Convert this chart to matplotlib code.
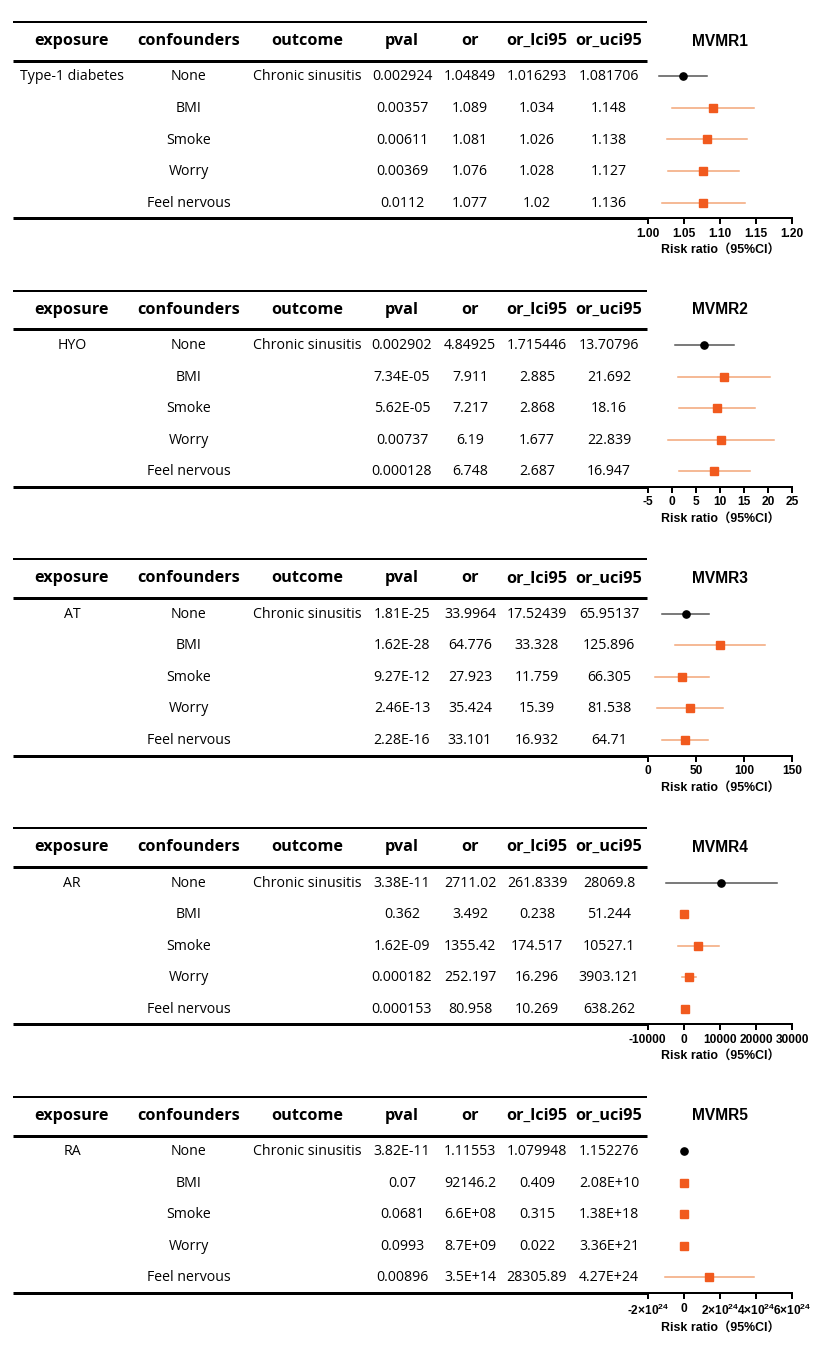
import matplotlib
matplotlib.use("Agg")
import matplotlib.pyplot as plt

W, H, DPI = 833, 1350, 100

# ---------------- data ----------------
headers = ["exposure", "confounders", "outcome", "pval", "or", "or_lci95", "or_uci95"]
exposures = ["Type-1 diabetes", "HYO", "AT", "AR", "RA"]
confounders = ["None", "BMI", "Smoke", "Worry", "Feel nervous"]
outcome = "Chronic sinusitis"
titles = ["MVMR1", "MVMR2", "MVMR3", "MVMR4", "MVMR5"]

pval = [
    ["0.002924", "0.00357", "0.00611", "0.00369", "0.0112"],
    ["0.002902", "7.34E-05", "5.62E-05", "0.00737", "0.000128"],
    ["1.81E-25", "1.62E-28", "9.27E-12", "2.46E-13", "2.28E-16"],
    ["3.38E-11", "0.362", "1.62E-09", "0.000182", "0.000153"],
    ["3.82E-11", "0.07", "0.0681", "0.0993", "0.00896"],
]
or_val = [
    ["1.04849", "1.089", "1.081", "1.076", "1.077"],
    ["4.84925", "7.911", "7.217", "6.19", "6.748"],
    ["33.9964", "64.776", "27.923", "35.424", "33.101"],
    ["2711.02", "3.492", "1355.42", "252.197", "80.958"],
    ["1.11553", "92146.2", "6.6E+08", "8.7E+09", "3.5E+14"],
]
or_lci = [
    ["1.016293", "1.034", "1.026", "1.028", "1.02"],
    ["1.715446", "2.885", "2.868", "1.677", "2.687"],
    ["17.52439", "33.328", "11.759", "15.39", "16.932"],
    ["261.8339", "0.238", "174.517", "16.296", "10.269"],
    ["1.079948", "0.409", "0.315", "0.022", "28305.89"],
]
or_uci = [
    ["1.081706", "1.148", "1.138", "1.127", "1.136"],
    ["13.70796", "21.692", "18.16", "22.839", "16.947"],
    ["65.95137", "125.896", "66.305", "81.538", "64.71"],
    ["28069.8", "51.244", "10527.1", "3903.121", "638.262"],
    ["1.152276", "2.08E+10", "1.38E+18", "3.36E+21", "4.27E+24"],
]

# forest-plot values as drawn
fp_est = [
    [1.0488, 1.0908, 1.082, 1.0767, 1.077],
    [6.74, 10.76, 9.38, 10.2, 8.76],
    [39.4, 74.7, 35.3, 43.9, 38.4],
    [10370, 0, 3980, 1300, 190],
    [0, 0, 0, 0, 1.41e24],
]
fp_lo = [
    [1.016, 1.034, 1.0263, 1.0286, 1.0203],
    [0.66, 1.22, 1.56, -0.85, 1.5],
    [15.2, 28.3, 7.6, 10.0, 14.5],
    [-5000, 0, -1670, -650, 190],
    [0, 0, 0, 0, -1.02e24],
]
fp_hi = [
    [1.0816, 1.147, 1.137, 1.126, 1.1347],
    [12.9, 20.4, 17.26, 21.3, 16.2],
    [63.2, 121.7, 63.2, 78.1, 62.5],
    [25830, 0, 9720, 3400, 190],
    [0, 0, 0, 0, 3.88e24],
]
x_limits = [(1.0, 1.2), (-5, 25), (0, 150), (-10000, 30000), (-2e24, 6e24)]
x_ticks = [
    [1.00, 1.05, 1.10, 1.15, 1.20],
    [-5, 0, 5, 10, 15, 20, 25],
    [0, 50, 100, 150],
    [-10000, 0, 10000, 20000, 30000],
    [-2e24, 0, 2e24, 4e24, 6e24],
]
x_ticklabels = [
    ["1.00", "1.05", "1.10", "1.15", "1.20"],
    ["-5", "0", "5", "10", "15", "20", "25"],
    ["0", "50", "100", "150"],
    ["-10000", "0", "10000", "20000", "30000"],
    ["-2×10$^{24}$", "0", "2×10$^{24}$", "4×10$^{24}$", "6×10$^{24}$"],
]
xlabel = "Risk ratio（95%CI）"

# ---------------- style ----------------
plt.rcParams["mathtext.fontset"] = "custom"
plt.rcParams["mathtext.rm"] = "Liberation Sans:bold"
plt.rcParams["mathtext.it"] = "Liberation Sans:bold"
TABLE_FONT = ["Open Sans", "Noto Sans CJK SC", "DejaVu Sans"]
AX_FONT = ["Liberation Sans", "Noto Sans CJK SC", "DejaVu Sans"]
BLACK_PT = "#000000"
BLACK_CI = "#555555"
ORANGE_PT = "#F15A1E"
ORANGE_CI = "#F3A678"

col_x = [72, 189, 307, 402, 470, 537, 609]
PANEL_STEP = 268.7
TABLE_L, TABLE_R = 13, 647.5
AX_L, AX_R = 647.7, 792.3

fig = plt.figure(figsize=(W / DPI, H / DPI), dpi=DPI)
bg = fig.add_axes([0, 0, 1, 1])
bg.set_xlim(0, W)
bg.set_ylim(H, 0)
bg.axis("off")

px = 72.0 / DPI  # points per pixel

for k in range(5):
    base = PANEL_STEP * k
    y_top = 22 + base
    y_head = 41 + base
    y_hline = 60.7 + base
    y_bot = 218.3 + base
    row_h = (y_bot - y_hline) / 5.0
    rows_y = [y_hline + row_h * (i + 0.5) for i in range(5)]

    bg.plot([TABLE_L, TABLE_R], [y_top, y_top], color="black", lw=2 * px, solid_capstyle="butt")
    bg.plot([TABLE_L, TABLE_R], [y_hline, y_hline], color="black", lw=3 * px, solid_capstyle="butt")
    bg.plot([TABLE_L, TABLE_R], [y_bot, y_bot], color="black", lw=3 * px, solid_capstyle="butt")

    for c, h in enumerate(headers):
        bg.text(col_x[c], y_head, h, ha="center", va="center", fontsize=11.7,
                fontweight="bold", family=TABLE_FONT)

    cols = [
        [exposures[k], "", "", "", ""],
        confounders,
        [outcome, "", "", "", ""],
        pval[k], or_val[k], or_lci[k], or_uci[k],
    ]
    for c, colvals in enumerate(cols):
        for i, s in enumerate(colvals):
            if s:
                bg.text(col_x[c], rows_y[i] + 0.5, s, ha="center", va="center",
                        fontsize=10.2, family=TABLE_FONT)

    # title
    bg.text((AX_L + AX_R) / 2, y_head, titles[k], ha="center", va="center",
            fontsize=11.2, fontweight="bold", family=AX_FONT)

    # forest axes
    ax = fig.add_axes([AX_L / W, 1 - y_bot / H, (AX_R - AX_L) / W, (y_bot - y_hline) / H])
    ax.set_xlim(*x_limits[k])
    ax.set_ylim(4.5, -0.5)
    ax.patch.set_alpha(0)
    for side in ["top", "right", "left"]:
        ax.spines[side].set_visible(False)
    ax.spines["bottom"].set_linewidth(2 * px)
    ax.set_yticks([])
    ax.set_xticks(x_ticks[k])
    ax.set_xticklabels(x_ticklabels[k], fontsize=8.6, fontweight="bold", family=AX_FONT)
    ax.tick_params(axis="x", direction="out", length=6 * px, width=2 * px, pad=2.5)
    ax.set_xlabel(xlabel, fontsize=8.9, fontweight="bold", family=AX_FONT, labelpad=3)

    for i in range(5):
        if i == 0:
            ax.plot([fp_lo[k][i], fp_hi[k][i]], [i, i], color=BLACK_CI, lw=1.1, zorder=2)
            ax.plot(fp_est[k][i], i, marker="o", ms=5.2, color=BLACK_PT, zorder=3)
        else:
            ax.plot([fp_lo[k][i], fp_hi[k][i]], [i, i], color=ORANGE_CI, lw=1.1, zorder=2)
            ax.plot(fp_est[k][i], i, marker="s", ms=5.8, color=ORANGE_PT, zorder=3)

fig.savefig("out.png", dpi=DPI, facecolor="white")
